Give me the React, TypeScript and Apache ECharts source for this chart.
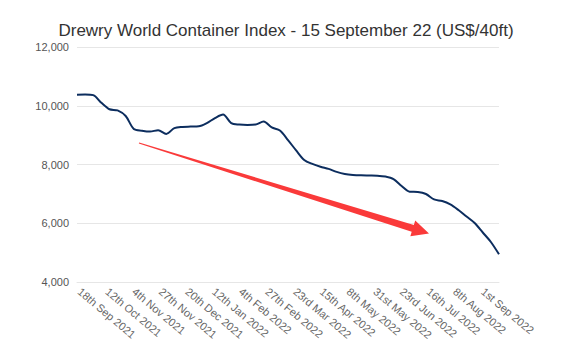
import React, { useEffect, useRef } from "react";
import * as echarts from "echarts";

const titleText = "Drewry World Container Index - 15 September 22 (US$/40ft)";
const firstWeek = "2021-09-16";
const lastWeek = "2022-09-15";

// Weekly index values (US$/40ft), one per Thursday from 16 Sep 2021 to 15 Sep 2022
const wciValues = [
  10377, 10383, 10361, 10100, 9880, 9840, 9650, 9210, 9150, 9120, 9170, 9040,
  9240, 9280, 9290, 9300, 9410, 9580, 9700, 9410, 9360, 9345, 9360, 9465,
  9260, 9155, 8830, 8480, 8155, 8020, 7925, 7850, 7750, 7680, 7645, 7630,
  7625, 7620, 7590, 7505, 7270, 7075, 7065, 6995, 6810, 6755, 6640, 6450,
  6230, 6010, 5685, 5362, 4943,
];

const tickDates = [
  "2021-09-18", "2021-10-12", "2021-11-04", "2021-11-27", "2021-12-20",
  "2022-01-12", "2022-02-04", "2022-02-27", "2022-03-23", "2022-04-15",
  "2022-05-08", "2022-05-31", "2022-06-23", "2022-07-16", "2022-08-08",
  "2022-09-01",
];
const tickLabels = [
  "18th Sep 2021", "12th Oct 2021", "4th Nov 2021", "27th Nov 2021",
  "20th Dec 2021", "12th Jan 2022", "4th Feb 2022", "27th Feb 2022",
  "23rd Mar 2022", "15th Apr 2022", "8th May 2022", "31st May 2022",
  "23rd Jun 2022", "16th Jul 2022", "8th Aug 2022", "1st Sep 2022",
];

const yMin = 4000;
const yMax = 12000;
const yStep = 2000;

// day offset from the first weekly reading
const DAY = 86400000;
function dayOf(s: string): number {
  const [y, m, d] = s.split("-").map(Number);
  const [y0, m0, d0] = firstWeek.split("-").map(Number);
  return Math.round((Date.UTC(y, m - 1, d) - Date.UTC(y0, m0 - 1, d0)) / DAY);
}

export default function App() {
  const ref = useRef<HTMLDivElement>(null);

  useEffect(() => {
    if (!ref.current) return;
    const chart = echarts.init(ref.current, undefined, { renderer: "svg" });

    const seriesData = wciValues.map((v, i) => [i * 7, v]);
    const tickDays = tickDates.map((d) => dayOf(d));
    const labelMap = new Map<number, string>();
    tickDays.forEach((t, i) => labelMap.set(t, tickLabels[i]));

    // Red trend arrow annotation (tapered)
    const S = [139, 143];
    const T = [429, 233.5];
    const dx = T[0] - S[0];
    const dy = T[1] - S[1];
    const len = Math.sqrt(dx * dx + dy * dy);
    const u = [dx / len, dy / len];
    const n = [-u[1], u[0]];
    const headLen = 17;
    const B = [T[0] - headLen * u[0], T[1] - headLen * u[1]];
    const p = (c: number[], k: number) => [c[0] + k * n[0], c[1] + k * n[1]];
    const arrowPts = [p(S, -0.6), p(B, -3.6), p(B, -8.2), T, p(B, 8.2), p(B, 3.6), p(S, 0.6)];

    chart.setOption({
      animation: false,
      backgroundColor: "#ffffff",
      title: {
        text: titleText,
        left: "center",
        top: 17,
        textStyle: {
          fontFamily: "Liberation Sans, Arial, sans-serif",
          fontSize: 17,
          fontWeight: "normal",
          color: "#333333",
        },
      },
      grid: { left: 77, right: 73, top: 47, bottom: 73, containLabel: false },
      xAxis: {
        type: "value",
        min: 0,
        max: dayOf(lastWeek),
        axisLine: { show: true, lineStyle: { color: "#e6e6e6", width: 1 } },
        axisTick: { show: false },
        splitLine: { show: false },
        axisLabel: {
          customValues: tickDays,
          rotate: -40,
          margin: 8,
          fontFamily: "Liberation Sans, Arial, sans-serif",
          fontSize: 11,
          color: "#666666",
          hideOverlap: false,
          formatter: (val: number) => labelMap.get(Math.round(val)) ?? "",
        },
      },
      yAxis: {
        type: "value",
        min: yMin,
        max: yMax,
        interval: yStep,
        axisLine: { show: false },
        axisTick: { show: false },
        splitLine: { lineStyle: { color: "#e6e6e6", width: 1 } },
        axisLabel: {
          margin: 8,
          fontFamily: "Liberation Sans, Arial, sans-serif",
          fontSize: 11,
          color: "#555555",
          formatter: (v: number) => v.toLocaleString("en-US"),
        },
      },
      series: [
        {
          type: "line",
          data: seriesData,
          smooth: 0.3,
          showSymbol: false,
          symbol: "none",
          lineStyle: { color: "#0c2d5e", width: 2 },
        },
      ],
      graphic: [
        {
          type: "polygon",
          z: 100,
          shape: { points: arrowPts },
          style: { fill: "#fa3a3a" },
        },
      ],
    });

    return () => chart.dispose();
  }, []);

  return (
    <div
      ref={ref}
      style={{ position: "fixed", left: 0, top: 0, width: 572, height: 355 }}
    />
  );
}
